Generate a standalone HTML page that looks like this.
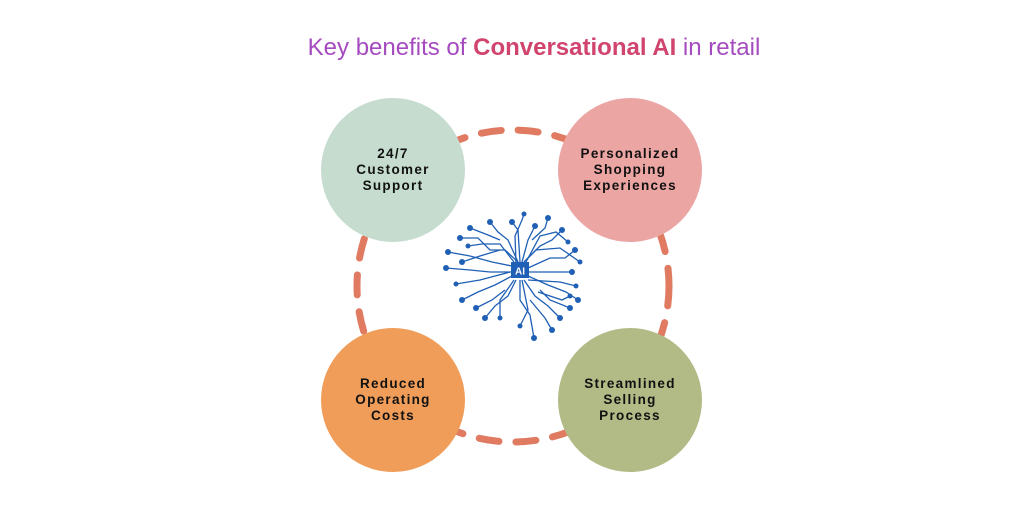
<!DOCTYPE html>
<html><head><style>
body{margin:0;width:1024px;height:512px;background:#fff;overflow:hidden;position:relative;font-family:"Liberation Sans",sans-serif}
.t{position:absolute;left:0;width:1068px;top:34px;text-align:center;font-size:24px;color:#a54bbf}
.t b{color:#d0446e}
.c{position:absolute;width:144px;height:144px;border-radius:50%;display:flex;align-items:center;justify-content:center;text-align:center;font-weight:bold;font-size:13.5px;line-height:16px;letter-spacing:1.3px;color:#111}
</style></head><body>
<div class="t">Key benefits of <b>Conversational AI</b> in retail</div>
<svg width="1024" height="512" style="position:absolute;left:0;top:0">
<circle cx="513" cy="286" r="156" fill="none" stroke="#e07b62" stroke-width="7" stroke-linecap="round" stroke-dasharray="20 17"/>
<g stroke="#1f5fb5" stroke-width="1.3" fill="none">
<path d="M518 262 L505 250 L490 250 L478 238 L460 238"/>
<path d="M518 262 L508 240 L498 232 L490 222"/>
<path d="M520 262 L518 230 L512 222"/>
<path d="M522 262 L528 240 L535 226"/>
<path d="M524 262 L540 246 L552 240 L562 230"/>
<path d="M528 268 L550 258 L565 258 L575 250"/>
<path d="M528 272 L555 272 L572 272"/>
<path d="M528 276 L548 285 L566 292 L578 300"/>
<path d="M524 280 L535 296 L548 306 L560 318"/>
<path d="M520 280 L520 300 L530 315 L534 338"/>
<path d="M516 280 L508 296 L495 306 L485 318"/>
<path d="M512 276 L495 285 L478 292 L462 300"/>
<path d="M512 272 L490 272 L470 270 L446 268"/>
<path d="M512 266 L492 262 L470 256 L448 252"/>
<path d="M500 250 L480 256 L462 262"/>
<path d="M540 290 L550 300 L570 308"/>
<path d="M505 290 L492 300 L476 308"/>
<path d="M530 300 L545 318 L552 330"/>
<path d="M532 240 L545 228 L548 218"/>
<path d="M500 240 L488 235 L470 228"/>
<path d="M514 262 L500 244 L482 244 L468 246"/>
<path d="M526 262 L540 236 L556 232 L568 242"/>
<path d="M528 280 L560 282 L576 286"/>
<path d="M522 280 L528 310 L520 326"/>
<path d="M514 280 L500 300 L500 318"/>
<path d="M510 272 L480 280 L456 284"/>
<path d="M516 262 L515 236 L522 220 L524 214"/>
<path d="M524 262 L536 250 L560 248 L580 262"/>
<path d="M538 292 L562 300 L570 296"/>
</g>
<g fill="#1f5fb5">
<circle cx="460" cy="238" r="3"/><circle cx="490" cy="222" r="3"/><circle cx="512" cy="222" r="3"/><circle cx="535" cy="226" r="3"/><circle cx="562" cy="230" r="3"/><circle cx="575" cy="250" r="3"/><circle cx="572" cy="272" r="3"/><circle cx="578" cy="300" r="3"/><circle cx="560" cy="318" r="3"/><circle cx="534" cy="338" r="3"/><circle cx="485" cy="318" r="3"/><circle cx="462" cy="300" r="3"/><circle cx="446" cy="268" r="3"/><circle cx="448" cy="252" r="3"/><circle cx="462" cy="262" r="3"/><circle cx="570" cy="308" r="3"/><circle cx="476" cy="308" r="3"/><circle cx="552" cy="330" r="3"/><circle cx="548" cy="218" r="3"/><circle cx="470" cy="228" r="3"/>
<circle cx="468" cy="246" r="2.5"/><circle cx="568" cy="242" r="2.5"/><circle cx="576" cy="286" r="2.5"/><circle cx="520" cy="326" r="2.5"/><circle cx="500" cy="318" r="2.5"/><circle cx="456" cy="284" r="2.5"/><circle cx="524" cy="214" r="2.5"/><circle cx="580" cy="262" r="2.5"/><circle cx="570" cy="296" r="2.5"/>
<rect x="511" y="262" width="18" height="16" fill="#1f5fb5"/>
</g>
<text x="520" y="274.5" font-family="Liberation Sans" font-weight="bold" font-size="10" fill="#fff" text-anchor="middle">AI</text>
</svg>
<div class="c" style="left:321px;top:98px;background:#c5dccf">24/7<br>Customer<br>Support</div>
<div class="c" style="left:558px;top:98px;background:#eba5a3">Personalized<br>Shopping<br>Experiences</div>
<div class="c" style="left:321px;top:328px;background:#ef9d59">Reduced<br>Operating<br>Costs</div>
<div class="c" style="left:558px;top:328px;background:#b2ba86">Streamlined<br>Selling<br>Process</div>
</body></html>
